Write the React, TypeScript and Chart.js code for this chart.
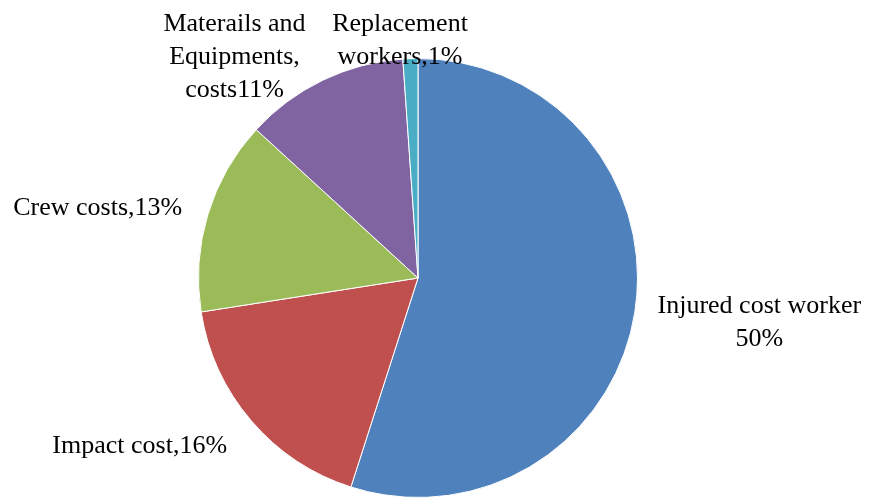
import React, { useEffect, useRef } from "react";
import { Chart, registerables } from "chart.js";

Chart.register(...registerables);

const categories = [
  "Injured cost worker",
  "Impact cost",
  "Crew costs",
  "Materails and Equipments, costs",
  "Replacement workers",
];
const values = [50, 16, 13, 11, 1];
const colors = ["#4F81BD", "#C0504D", "#9BBB59", "#8064A2", "#4BACC6"];
const labelLines = [
  ["Injured cost worker", "50%"],
  ["Impact cost,16%"],
  ["Crew costs,13%"],
  ["Materails and", "Equipments,", "costs11%"],
  ["Replacement", "workers,1%"],
];
// label anchor offsets relative to pie center, in units of radius
const labelOffsets = [
  [1.555, 0.16],
  [-1.268, 0.795],
  [-1.459, -0.286],
  [-0.836, -1.127],
  [-0.082, -1.127],
];

const labelPlugin = {
  id: "sliceLabels",
  afterDatasetsDraw(chart: any) {
    const ctx = chart.ctx;
    const meta = chart.getDatasetMeta(0);
    ctx.save();
    ctx.font = "26px 'Liberation Serif', 'Times New Roman', serif";
    ctx.fillStyle = "#000";
    ctx.textAlign = "center";
    ctx.textBaseline = "alphabetic";
    meta.data.forEach((arc: any, i: number) => {
      const r = arc.outerRadius;
      const cx = arc.x + labelOffsets[i][0] * r;
      const cy = arc.y + labelOffsets[i][1] * r;
      labelLines[i].forEach((line, j) => {
        ctx.fillText(line, cx, cy + j * 33);
      });
    });
    ctx.restore();
  },
};

export default function App() {
  const ref = useRef<HTMLCanvasElement>(null);
  useEffect(() => {
    const chart = new Chart(ref.current!, {
      type: "pie",
      data: {
        labels: categories,
        datasets: [
          {
            data: values,
            backgroundColor: colors,
            borderColor: "#ffffff",
            borderWidth: 1,
          },
        ],
      },
      options: {
        responsive: false,
        animation: false,
        layout: { padding: { left: 198, right: 232, top: 58, bottom: 2 } },
        plugins: {
          legend: { display: false },
          tooltip: { enabled: false },
        },
      },
      plugins: [labelPlugin],
    });
    return () => chart.destroy();
  }, []);
  return (
    <div style={{ position: "absolute", left: 0, top: 0, width: 870, height: 500, background: "#fff" }}>
      <canvas ref={ref} width={870} height={500} />
    </div>
  );
}
